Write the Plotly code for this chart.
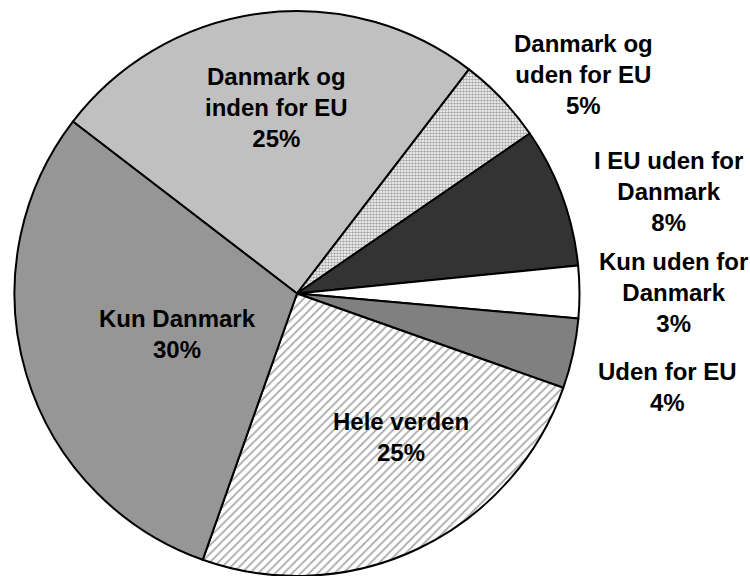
import plotly.graph_objects as go

# Where companies sell: share of respondents per market
labels = [
    "Danmark og<br>inden for EU",
    "Danmark og<br>uden for EU",
    "I EU uden for<br>Danmark",
    "Kun uden for<br>Danmark",
    "Uden for EU",
    "Hele verden",
    "Kun Danmark",
]
values = [25, 5, 8, 3, 4, 25, 30]

fill_colors = ["#c0c0c0", "#ffffff", "#333333", "#ffffff", "#808080", "#ffffff", "#969696"]
pattern_shapes = ["", ".", "", "", "", "/", ""]
pattern_fg = ["#000000", "#a8a8a8", "#000000", "#000000", "#000000", "#a8a8a8", "#000000"]

# Label anchor points (pixels from top-left of the figure)
label_xy = [
    (276, 98),
    (583, 65),
    (668, 184),
    (673, 287),
    (667, 383),
    (401, 434),
    (177, 329),
]

W, H = 750, 576

fig = go.Figure(
    go.Pie(
        labels=labels,
        values=values,
        sort=False,
        direction="clockwise",
        rotation=-52.5,
        textinfo="none",
        hoverinfo="label+percent",
        showlegend=False,
        domain=dict(x=[0.0, 0.792], y=[0.0, 1.0]),
        marker=dict(
            colors=fill_colors,
            line=dict(color="#000000", width=2),
            pattern=dict(
                shape=pattern_shapes,
                fgcolor=pattern_fg,
                bgcolor=fill_colors,
                size=[6, 3, 6, 6, 6, 6, 6],
                solidity=[0.3, 0.55, 0.3, 0.3, 0.3, 0.3, 0.3],
            ),
        ),
    )
)

total = sum(values)
for lab, val, (px, py) in zip(labels, values, label_xy):
    pct = round(100 * val / total)
    fig.add_annotation(
        x=px / W,
        y=1 - py / H,
        xref="paper",
        yref="paper",
        text=f"<b>{lab}<br>{pct}%</b>",
        showarrow=False,
        xanchor="center",
        yanchor="middle",
        align="center",
        font=dict(family="Liberation Sans, Arial, sans-serif", size=24, color="#000000"),
    )

fig.update_layout(
    width=W,
    height=H,
    margin=dict(l=0, r=0, t=11, b=0),
    paper_bgcolor="#ffffff",
    plot_bgcolor="#ffffff",
)

fig.write_html("out.html")
